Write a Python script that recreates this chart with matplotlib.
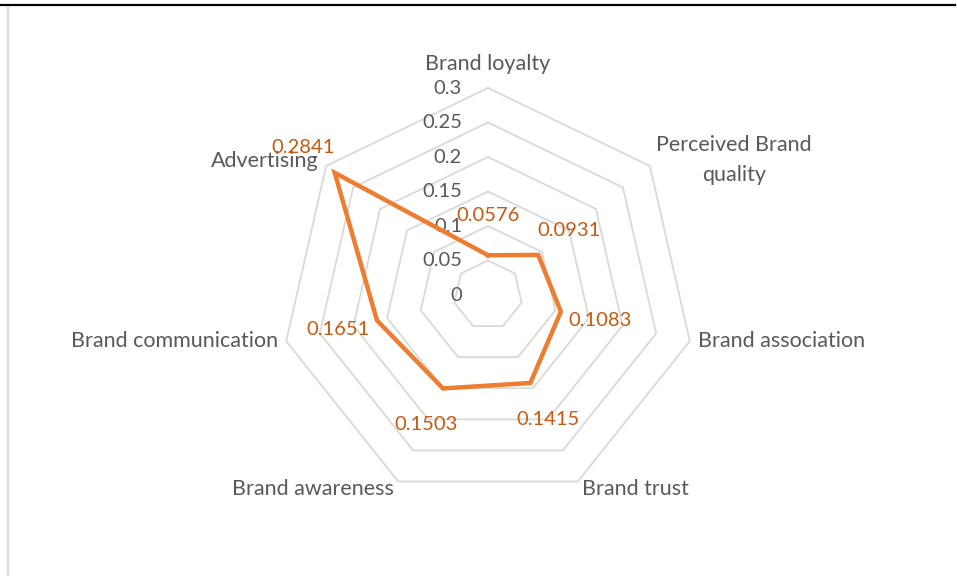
import numpy as np
import matplotlib
matplotlib.use("Agg")
import matplotlib.pyplot as plt
from matplotlib.lines import Line2D

categories = ["Brand loyalty", "Perceived Brand\nquality", "Brand association",
              "Brand trust", "Brand awareness", "Brand communication", "Advertising"]
values = [0.0576, 0.0931, 0.1083, 0.1415, 0.1503, 0.1651, 0.2841]
value_labels = ["0.0576", "0.0931", "0.1083", "0.1415", "0.1503", "0.1651", "0.2841"]
rings = [0.05, 0.1, 0.15, 0.2, 0.25, 0.3]
ring_labels = ["0", "0.05", "0.1", "0.15", "0.2", "0.25", "0.3"]

GRAY = "#595959"
GRID = "#D9D9D9"
ORANGE = "#ED7D31"
LABEL_OR = "#C55A11"
FONT = "Lato"

W, H = 957, 576
cx, cy = 488, 295      # centre in pixels (from top)
R_PX = 207             # radius of 0.3 ring in pixels
rmax = 0.3
scale = rmax / R_PX    # data units per pixel

fig = plt.figure(figsize=(W / 100, H / 100), dpi=100)
ax = fig.add_axes([0, 0, 1, 1])
ax.set_xlim(-cx * scale, (W - cx) * scale)
ax.set_ylim(-(H - cy) * scale, cy * scale)
ax.set_aspect("equal")
ax.axis("off")

n = len(categories)
ang = np.arange(n) * 2 * np.pi / n
sx, sy = np.sin(ang), np.cos(ang)

def closed(a):
    return np.append(a, a[0])

# grid heptagons
for r in rings:
    ax.plot(closed(r * sx), closed(r * sy), color=GRID, lw=1.3, zorder=1)

# ring labels
for i, lab in enumerate(ring_labels):
    r = i * 0.05
    ax.text(-26 * scale, r, lab, ha="right", va="center", color=GRAY,
            fontsize=14.5, family=FONT, zorder=3)

# series
v = np.array(values)
ax.plot(closed(v * sx), closed(v * sy), color=ORANGE, lw=3.2,
        solid_joinstyle="miter", zorder=4)

# value labels, 40 px radially outward
for i, lab in enumerate(value_labels):
    ax.annotate(lab, (v[i] * sx[i], v[i] * sy[i]),
                xytext=(40 * sx[i], 40 * sy[i]), textcoords="offset pixels",
                ha="center", va="center", color=LABEL_OR, fontsize=14.5,
                family=FONT, zorder=5)

# category labels
cat_style = [
    ((0, 24), "center"),
    ((6, 6), "left"),
    ((8, 0), "left"),
    ((4, -7), "left"),
    ((-4, -7), "right"),
    ((-8, 0), "right"),
    ((-8, 5), "right"),
]
for i, lab in enumerate(categories):
    off, ha = cat_style[i]
    ax.annotate(lab, (rmax * sx[i], rmax * sy[i]), xytext=off,
                textcoords="offset pixels", ha=ha, va="center", color=GRAY,
                fontsize=15.5, family=FONT, multialignment="center",
                linespacing=1.65, zorder=3)

# page rule and left border
fig.add_artist(Line2D([0, 955 / W], [1 - 5 / H, 1 - 5 / H], color="black",
                      lw=1.6, transform=fig.transFigure))
fig.add_artist(Line2D([8 / W, 8 / W], [0, 1 - 8 / H], color=GRID,
                      lw=1.6, transform=fig.transFigure))

fig.savefig("out.png", dpi=100)
